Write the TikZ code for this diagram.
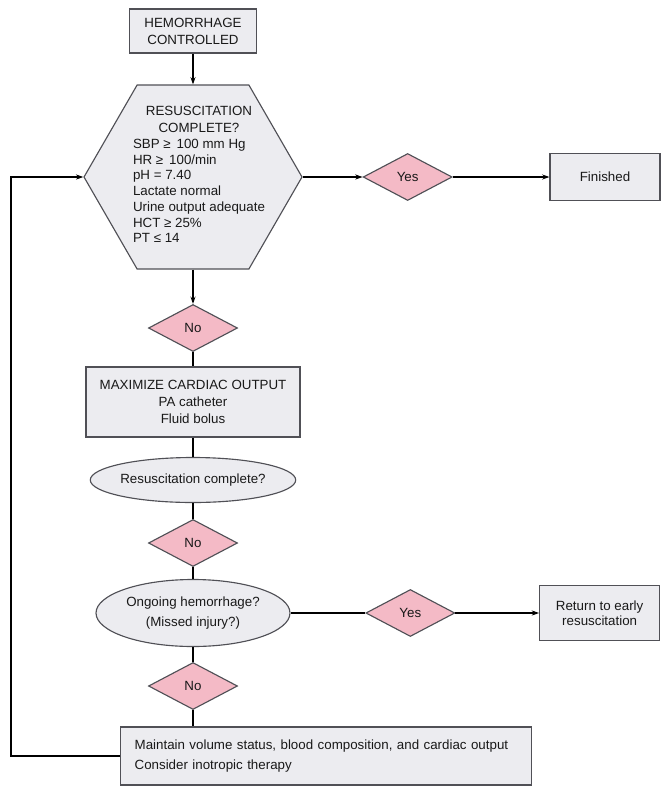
\documentclass[tikz,border=0pt]{standalone}
\usepackage{fontspec}
\setmainfont{Liberation Sans}
\usetikzlibrary{shapes.geometric,shapes.symbols,arrows.meta}
\definecolor{boxgray}{RGB}{236,236,240}
\definecolor{answerpink}{RGB}{244,186,198}
\definecolor{linegray}{RGB}{80,80,86}

\begin{document}
\begin{tikzpicture}[x=0.75pt,y=-0.75pt,
			process box/.style={rectangle,draw=linegray,fill=boxgray,align=center,inner sep=2pt},
			check hexagon/.style={shape=signal,signal to=west and east,signal pointer angle=120,
				draw=linegray,fill=boxgray,minimum width=163.5pt,minimum height=138pt,inner sep=0pt},
			test ellipse/.style={ellipse,draw=linegray,fill=boxgray,align=center,inner sep=0pt,minimum width=145.5pt},
			answer diamond/.style={diamond,aspect=1.9,draw=linegray,fill=answerpink,inner sep=0pt,
				minimum width=66.75pt,minimum height=35.25pt},
			>={Stealth[length=5.5pt,width=3.8pt]},line width=0.85pt,
			every node/.style={text=black!90,font=\fontsize{10}{12.75}\selectfont}]
			\useasboundingbox (0,0) rectangle (671,794);

			\node[process box,minimum width=95.25pt,minimum height=33pt] (ctrl) at (193,31) {HEMORRHAGE\\CONTROLLED};
			\node[check hexagon] (hex) at (193,177) {};
			\node[align=center,inner sep=0pt] (hextext) at (199,177) {RESUSCITATION\\COMPLETE?\\[2.5pt]%
				{\fontsize{10}{11.8}\selectfont\begin{tabular}{@{}l@{}}
				SBP ≥\, 100 mm Hg\\ HR ≥\, 100/min\\ pH = 7.40\\ Lactate normal\\
				Urine output adequate\\ HCT ≥ 25\%\\ PT ≤ 14\end{tabular}}};
			\node[answer diamond] (yes1) [right of=hex,node distance=161pt] {Yes};
			\node[process box,minimum width=82.5pt,minimum height=35.25pt] (fin) [right of=yes1,node distance=148pt] {Finished};

			\node[answer diamond] (no1) at (193,328) {No};
			\node[process box,minimum width=160.5pt,minimum height=52.5pt] (maxco) at (193,402) {MAXIMIZE CARDIAC OUTPUT\\PA catheter\\Fluid bolus};
			\node[test ellipse,minimum height=33.75pt] (ell1) at (193,480) {Resuscitation complete?};
			\node[answer diamond] (no2) at (193,543) {No};
			\node[test ellipse,minimum height=50.25pt,font=\fontsize{10}{15.5}\selectfont] (ell2) at (193,613) {Ongoing hemorrhage?\\(Missed injury?)};
			\node[answer diamond] (yes2) [right of=ell2,node distance=163pt] {Yes};
			\node[process box,minimum width=90pt,minimum height=41.25pt,font=\fontsize{10}{11.5}\selectfont] (ret) [right of=yes2,node distance=142pt] {Return to early\\resuscitation};
			\node[answer diamond] (no3) at (193,686) {No};
			\node[process box,align=left,text width=287pt,inner xsep=10.5pt,minimum height=43.5pt,
				font=\fontsize{10}{15}\selectfont] (bot) at (326,756) {Maintain volume status, blood composition, and cardiac output\\Consider inotropic therapy};
			\coordinate (loop) at (11,756);

			\path[->] (ctrl) edge (hex);
			\path[->] (hex) edge (yes1);
			\path[->] (yes1) edge (fin);
			\path[->] (hex.south) edge (no1.north);
			\path (no1) edge (maxco) (maxco) edge (ell1) (ell1) edge (no2) (no2) edge (ell2) (ell2) edge (no3);
			\path (ell2) edge (yes2);
			\path[->] (yes2) edge (ret);
			\path (no3) edge (no3 |- bot.north);
			\draw[->] (bot.west) -- (loop) |- (hex.west);
		\end{tikzpicture}
\end{document}
